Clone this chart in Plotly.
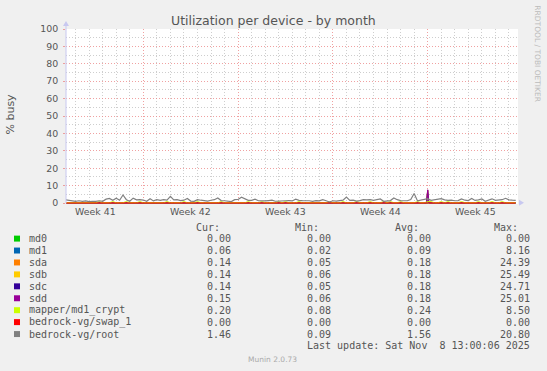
import plotly.graph_objects as go
import pandas as pd

# ---------------- data ----------------
root_start = "2025-10-07 06:00"
root = [1.9, 1.7, 1.2, 1.0, 1.3, 0.9, 1.2, 0.8, 1.0, 0.9,
        1.3, 1.0, 2.2, 2.6, 1.6, 2.8, 1.6, 4.6, 1.9, 1.0,
        2.8, 1.8, 1.9, 1.7, 1.0, 2.4, 1.2, 1.9, 1.5, 1.9,
        1.7, 3.8, 1.8, 1.9, 1.4, 1.6, 2.6, 1.1, 1.0, 1.9,
        1.6, 1.2, 1.1, 1.6, 1.9, 2.9, 1.4, 1.3, 1.0, 0.8,
        1.9, 2.0, 3.3, 2.2, 1.5, 1.5, 2.2, 1.3, 1.1, 1.2,
        1.4, 1.6, 1.0, 1.2, 1.5, 1.3, 1.4, 1.2, 2.2, 1.5,
        1.4, 1.5, 1.3, 1.0, 1.4, 1.2, 1.9, 1.3, 0.6, 1.3,
        1.1, 1.4, 1.6, 3.4, 1.5, 1.6, 1.1, 1.4, 1.9, 1.8,
        1.9, 1.5, 1.7, 2.3, 1.0, 1.1, 1.4, 2.9, 1.9, 1.4,
        1.2, 1.3, 2.0, 5.5, 1.2, 1.6, 1.9, 2.5, 1.5, 1.9,
        2.3, 2.5, 1.8, 1.5, 1.7, 1.3, 1.4, 2.3, 1.6, 1.4,
        2.6, 1.5, 1.8, 2.3, 1.0, 1.6, 2.4, 1.5, 1.6, 1.9,
        2.7, 1.8, 1.6, 1.5]
mapper = [0.2, 0.2, 0.2, 0.2, 0.2, 0.2, 0.2, 0.2, 0.2, 0.2,
          0.8, 0.2, 0.2, 0.2, 0.8, 0.2, 0.2, 0.2, 0.8, 0.2,
          0.2, 0.2, 0.8, 0.2, 0.2, 0.2, 0.2, 0.2, 0.2, 0.2,
          0.8, 0.2, 0.2, 0.2, 0.2, 0.8, 0.2, 0.2, 0.2, 0.8,
          0.2, 0.2, 0.2, 0.2, 0.2, 0.2, 0.8, 0.2, 0.2, 0.2,
          0.2, 0.2, 0.2, 0.2, 0.8, 0.2, 0.2, 0.2, 0.8, 0.2,
          0.2, 0.2, 0.2, 0.8, 0.2, 0.8, 0.2, 0.2, 0.2, 0.8,
          0.2, 0.2, 0.2, 0.2, 0.2, 0.2, 0.2, 0.2, 0.8, 0.2,
          0.2, 0.2, 0.8, 0.2, 0.2, 0.2, 0.8, 0.2, 0.2, 0.2,
          0.8, 0.2, 0.2, 0.2, 0.8, 0.2, 0.8, 0.2, 0.2, 0.8,
          0.2, 0.2, 0.2, 0.2, 0.8, 0.2, 0.2, 0.8, 0.8, 0.2,
          0.2, 0.8, 0.2, 0.8, 0.2, 0.2, 0.2, 0.8, 0.2, 0.2,
          0.2, 0.2, 0.8, 0.2, 0.2, 0.2, 0.8, 0.2, 0.2, 0.8,
          0.2, 0.2, 0.2, 0.2]

disk_times = ["2025-10-07 06:00", "2025-11-02 22:00", "2025-11-03 00:00",
              "2025-11-03 02:00", "2025-11-09 12:00"]
md0 = [0.0, 0.0, 0.0, 0.0, 0.0]
md1 = [0.1, 0.1, 1.5, 0.1, 0.1]
sda = [0.15, 0.15, 7.3, 0.15, 0.15]
sdb = [0.15, 0.15, 7.4, 0.15, 0.15]
sdc = [0.15, 0.15, 7.3, 0.15, 0.15]
sdd = [0.15, 0.15, 7.6, 0.15, 0.15]
swap = [0.0, 0.0, 0.0, 0.0, 0.0]

names = ["md0", "md1", "sda", "sdb", "sdc", "sdd", "mapper/md1_crypt",
         "bedrock-vg/swap_1", "bedrock-vg/root"]
colors = ["#00CC00", "#0066B3", "#FF8000", "#FFCC00", "#330099", "#990099",
          "#CCFF00", "#FF0000", "#808080"]
cur = ["0.00", "0.06", "0.14", "0.14", "0.14", "0.15", "0.20", "0.00", "1.46"]
mins = ["0.00", "0.02", "0.05", "0.06", "0.05", "0.06", "0.08", "0.00", "0.09"]
avgs = ["0.00", "0.09", "0.18", "0.18", "0.18", "0.18", "0.24", "0.00", "1.56"]
maxs = ["0.00", "8.16", "24.39", "25.49", "24.71", "25.01", "8.50", "0.00", "20.80"]

week_labels = ["Week 41", "Week 42", "Week 43", "Week 44", "Week 45"]
week_centers = ["2025-10-09 12:00", "2025-10-16 12:00", "2025-10-23 12:00",
                "2025-10-30 12:00", "2025-11-06 12:00"]
x_range = ["2025-10-07 07:00", "2025-11-09 16:05"]

# ---------------- layout helpers ----------------
W, H = 547, 371
L, R, T, B = 66, 29, 28.5, 166.5
PW = W - L - R
PH = H - T - B


def px(x):
    return (x - L) / PW


def py(y):
    return (H - B - y) / PH


root_times = pd.date_range(root_start, periods=len(root), freq="6h")

series = [
    ("md0", disk_times, md0), ("md1", disk_times, md1),
    ("sda", disk_times, sda), ("sdb", disk_times, sdb),
    ("sdc", disk_times, sdc), ("sdd", disk_times, sdd),
    ("mapper/md1_crypt", root_times, mapper),
    ("bedrock-vg/swap_1", disk_times, swap),
    ("bedrock-vg/root", root_times, root),
]

fig = go.Figure()
for (nm, xs, ys), col in zip(series, colors):
    w = 1.2 if nm == "bedrock-vg/root" else 1
    fig.add_trace(go.Scatter(x=xs, y=ys, mode="lines", name=nm,
                             line=dict(color=col, width=w), showlegend=False,
                             hoverinfo="skip"))

MAJ = "rgba(235,130,130,0.75)"
MIN = "rgba(185,185,185,0.7)"
DASH = "1px,2px"

fig.update_layout(
    width=W, height=H,
    margin=dict(l=L, r=R, t=T, b=B, pad=0),
    paper_bgcolor="#F0F0F0", plot_bgcolor="#FFFFFF",
    showlegend=False,
    font=dict(family="DejaVu Sans", color="#555555", size=9.4),
    xaxis=dict(type="date", range=x_range, showticklabels=False,
               tick0="2025-10-13", dtick=7 * 86400000,
               showgrid=True, gridcolor=MAJ, griddash=DASH, gridwidth=1,
               minor=dict(tick0="2025-10-13", dtick=86400000, showgrid=True,
                          gridcolor=MIN, griddash=DASH, gridwidth=1),
               zeroline=False, showline=False, ticks=""),
    yaxis=dict(range=[-0.57, 100], tick0=0, dtick=10,
               showgrid=True, gridcolor=MAJ, griddash=DASH, gridwidth=1,
               minor=dict(dtick=5, showgrid=True, gridcolor=MIN,
                          griddash=DASH, gridwidth=1),
               zeroline=False, showline=False,
               ticks="outside", ticklen=2, tickcolor=MAJ,
               tickfont=dict(family="DejaVu Sans", size=9.4, color="#555555"),
               ticklabelstandoff=3),
)

ann = []
shapes = []
# title
ann.append(dict(text="Utilization per device - by month", x=px(273.5), y=py(19.5),
                xref="paper", yref="paper", xanchor="center", yanchor="middle",
                showarrow=False, font=dict(family="DejaVu Sans", size=12.5, color="#555555")))
# y axis title
ann.append(dict(text="% busy", x=px(11), y=py(114.5), xref="paper", yref="paper",
                xanchor="center", yanchor="middle", textangle=-90, showarrow=False,
                font=dict(family="DejaVu Sans", size=11, color="#555555")))
# watermark right
ann.append(dict(text="RRDTOOL / TOBI OETIKER", x=px(537.5), y=py(53.5),
                xref="paper", yref="paper", xanchor="center", yanchor="middle",
                textangle=90, showarrow=False,
                font=dict(family="DejaVu Sans", size=7.5, color="#BBBBBB")))
# week labels
for lab, c in zip(week_labels, week_centers):
    ann.append(dict(text=lab, x=c, y=py(212), xref="x", yref="paper",
                    xanchor="center", yanchor="middle", showarrow=False,
                    font=dict(family="DejaVu Sans", size=9.4, color="#555555")))

MONO = dict(family="DejaVu Sans Mono", size=10, color="#555555")
# headers
for txt, xr in zip(["Cur:", "Min:", "Avg:", "Max:"], [222, 321, 421, 520]):
    ann.append(dict(text=txt, x=px(xr), y=py(227.7), xref="paper", yref="paper",
                    xanchor="right", yanchor="middle", showarrow=False, font=MONO))
row_y0, row_dy = 239.3, 12.0
for i, nm in enumerate(names):
    yc = row_y0 + i * row_dy
    shapes.append(dict(type="rect", xref="paper", yref="paper",
                       x0=px(14), x1=px(20), y0=py(yc + 3), y1=py(yc - 3),
                       fillcolor=colors[i], line=dict(width=0)))
    ann.append(dict(text=nm, x=px(26.5), y=py(yc), xref="paper", yref="paper",
                    xanchor="left", yanchor="middle", showarrow=False, font=MONO))
    for col, xr in zip([cur, mins, avgs, maxs], [233, 333.3, 432.7, 532.3]):
        ann.append(dict(text=col[i], x=px(xr), y=py(yc), xref="paper", yref="paper",
                        xanchor="right", yanchor="middle", showarrow=False, font=MONO))
ann.append(dict(text="Last update: Sat Nov  8 13:00:06 2025".replace("  ", "&nbsp; "),
                x=px(532.3), y=py(347.3), xref="paper", yref="paper",
                xanchor="right", yanchor="middle", showarrow=False, font=MONO))
ann.append(dict(text="Munin 2.0.73", x=px(272.5), y=py(360.5), xref="paper", yref="paper",
                xanchor="center", yanchor="middle", showarrow=False,
                font=dict(family="DejaVu Sans", size=7.5, color="#AAAAAA")))

AX = "#C8C8F0"
# y axis line + arrow
shapes.append(dict(type="line", xref="paper", yref="paper", x0=px(66), x1=px(66),
                   y0=py(204), y1=py(24), line=dict(color=AX, width=1)))
shapes.append(dict(type="path", xref="paper", yref="paper",
                   path=f"M {px(63)} {py(25.5)} L {px(69)} {py(25.5)} L {px(66)} {py(20.5)} Z",
                   fillcolor=AX, line=dict(width=0)))
# x axis arrow
shapes.append(dict(type="path", xref="paper", yref="paper",
                   path=f"M {px(519)} {py(200.3)} L {px(519)} {py(206.3)} L {px(524)} {py(203.3)} Z",
                   fillcolor=AX, line=dict(width=0)))

fig.update_layout(annotations=ann, shapes=shapes)
fig.write_html("out.html")
